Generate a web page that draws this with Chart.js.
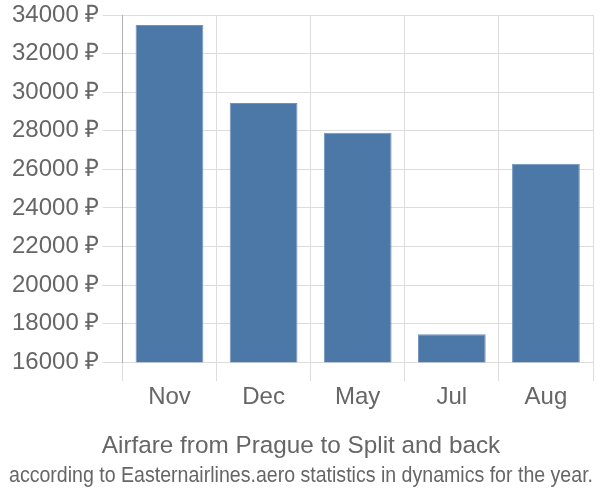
<!DOCTYPE html>
<html>
<head>
<meta charset="utf-8">
<script src="https://cdn.jsdelivr.net/npm/chart.js@4"></script>
<style>
  html, body { margin: 0; padding: 0; background: #fff; }
  #wrap { width: 600px; height: 500px; }
</style>
</head>
<body>
<div id="wrap"><canvas id="chart" width="600" height="500"></canvas></div>
<script>
const months = ['Nov', 'Dec', 'May', 'Jul', 'Aug']
const prices = [33480, 29440, 27890, 17450, 26290]
const yTicks = [16000, 18000, 20000, 22000, 24000, 26000, 28000, 30000, 32000, 34000]
const titleText = 'Airfare from Prague to Split and back'
const subtitleText = 'according to Easternairlines.aero statistics in dynamics for the year.'

const gray = '#666666'
const font = 'Liberation Sans, Arial, sans-serif'

new Chart(document.getElementById('chart').getContext('2d'), {
  type: 'bar',
  data: {
    labels: months,
    datasets: [{
      data: prices,
      backgroundColor: '#4c78a8',
      borderColor: '#6f92bb',
      borderWidth: 1,
      barPercentage: 0.72,
      categoryPercentage: 1
    }]
  },
  options: {
    responsive: false,
    animation: false,
    layout: { padding: { top: 2, right: 7, left: 9, bottom: 9 } },
    plugins: {
      legend: { display: false },
      tooltip: { enabled: false },
      title: {
        display: true,
        position: 'bottom',
        text: titleText,
        color: gray,
        font: { family: font, size: 24.3, weight: 'normal' },
        padding: { top: 18, bottom: 2 },
        weight: 1000
      },
      subtitle: {
        display: true,
        position: 'bottom',
        text: subtitleText,
        color: gray,
        font: { family: font, size: 21.5, weight: 'normal' },
        padding: { top: 0, bottom: 2 },
        weight: 3000
      }
    },
    scales: {
      x: {
        grid: { color: '#dddddd', lineWidth: 1, tickLength: 19 },
        border: { display: false },
        ticks: { color: gray, font: { family: font, size: 24 }, padding: 2 }
      },
      y: {
        min: yTicks[0],
        max: yTicks[yTicks.length - 1],
        afterBuildTicks: axis => { axis.ticks = yTicks.map(v => ({ value: v })) },
        grid: { color: '#dddddd', lineWidth: 1, tickLength: 20 },
        border: { display: true, color: '#b0b0b0', width: 1 },
        ticks: {
          color: gray,
          font: { family: font, size: 24, lineHeight: 1 },
          padding: 3,
          callback: v => v + ' ₽'
        }
      }
    }
  }
})
</script>
</body>
</html>
